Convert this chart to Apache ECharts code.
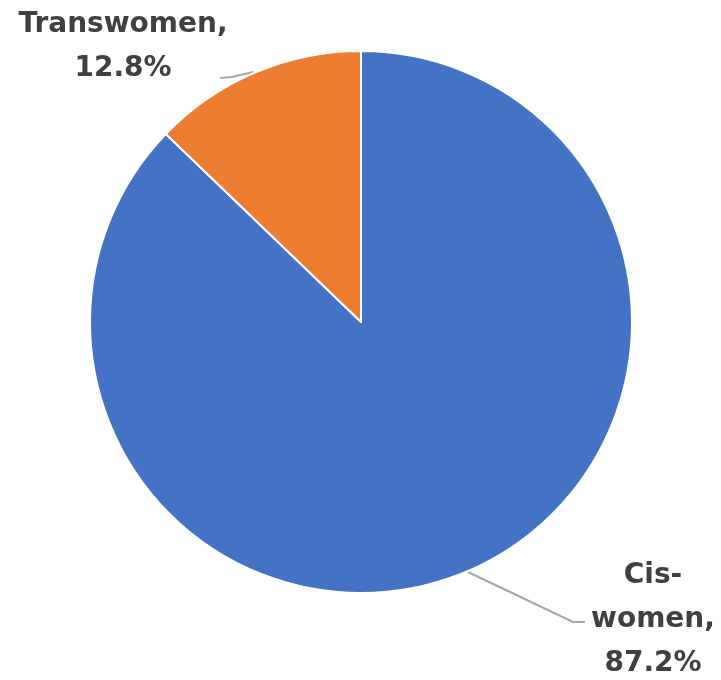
<!DOCTYPE html>
<html><head><meta charset="utf-8">
<script src="https://cdn.jsdelivr.net/npm/echarts@6/dist/echarts.min.js"></script>
<style>html,body{margin:0;padding:0;background:#fff}#c{width:721px;height:680px}</style>
</head><body><div id="c"></div>
<script>
const categories = ['Cis-\nwomen', 'Transwomen'];
const values = [87.2, 12.8];
const colors = ['#4472C4', '#ED7D31'];

const labelPos = [
  {x: 653, y: 620, line: [[468, 572], [573, 622], [585, 622]]},
  {x: 123, y: 47, line: [[253, 72], [232, 77], [220, 78]]}
];

const chart = echarts.init(document.getElementById('c'));
chart.setOption({
  animation: false,
  series: [{
    type: 'pie',
    center: [361, 322],
    radius: [0, 271],
    startAngle: 90,
    clockwise: true,
    data: categories.map((n, i) => ({name: n, value: values[i], itemStyle: {color: colors[i]}})),
    itemStyle: {borderColor: '#fff', borderWidth: 2},
    label: {
      show: true,
      position: 'outside',
      formatter: p => p.name + ',\n' + p.value.toFixed(1) + '%',
      fontFamily: 'DejaVu Sans',
      fontWeight: 'bold',
      fontSize: 28,
      lineHeight: 44,
      color: '#404040',
      align: 'center',
      overflow: 'none',
      width: 300
    },
    labelLine: {show: true, lineStyle: {color: '#A6A6A6', width: 2}},
    labelLayout: function (params) {
      const p = labelPos[params.dataIndex];
      return {x: p.x, y: p.y, align: 'center', verticalAlign: 'middle', labelLinePoints: p.line};
    }
  }]
});
</script></body></html>
